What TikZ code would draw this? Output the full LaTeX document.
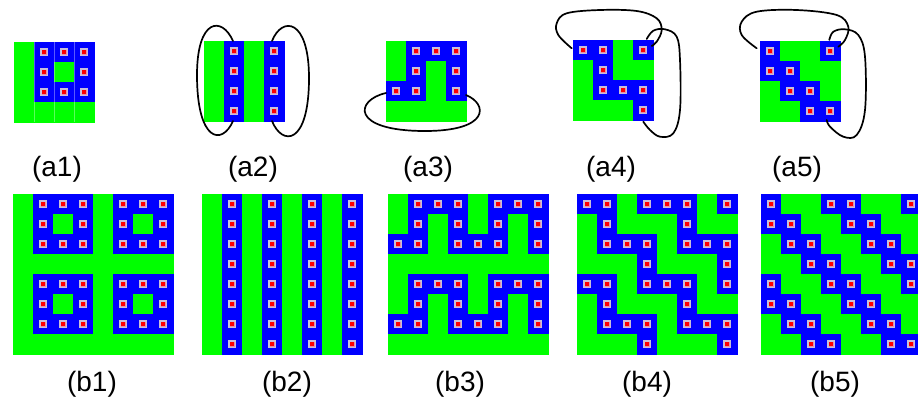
\documentclass[tikz,border=0pt]{standalone}
\usepackage{fontspec}
\setmainfont{Liberation Sans}
\definecolor{gridgreen}{RGB}{0,255,0}
\definecolor{gridblue}{RGB}{0,0,255}
\definecolor{halo}{RGB}{200,190,218}
\definecolor{halomid}{RGB}{232,140,170}
\definecolor{dotred}{RGB}{255,0,0}

\newcommand{\cellgrid}[3]{%
 \foreach \growlist [count=\gr from 0] in {#3} {%
  \foreach \gv [count=\gk from 0] in \growlist {%
   \pgfmathsetmacro{\gcx}{#1+20*\gk}%
   \pgfmathsetmacro{\gcy}{#2+20*\gr}%
   \ifnum\gv=1
     \fill[gridblue, draw=gridblue, line width=0.3] (\gcx,\gcy) rectangle ++(20,20);
     \fill[halo] (\gcx+6.25,\gcy+6.25) rectangle ++(7.5,7.5);
     \fill[halomid] (\gcx+7.5,\gcy+7.5) rectangle ++(5,5);
     \fill[dotred] (\gcx+8.4,\gcy+8.4) rectangle ++(3.2,3.2);
   \else
     \fill[gridgreen, draw=gridgreen, line width=0.3] (\gcx,\gcy) rectangle ++(20,20);
   \fi
  }%
 }%
}
\newcommand{\tiledgrid}[3]{%
 \foreach \gti in {0,1} {%
  \foreach \gtj in {0,1} {%
   \pgfmathsetmacro{\gtx}{#1+80*\gti}%
   \pgfmathsetmacro{\gty}{#2+80*\gtj}%
   \cellgrid{\gtx}{\gty}{#3}%
  }%
 }%
}

\begin{document}
\begin{tikzpicture}[x=1pt, y=-1pt,
  lbl/.style={anchor=base, inner sep=0pt, font=\fontsize{28}{30}\selectfont},
  loopline/.style={draw=black, line width=1.7pt, line cap=round}]
\useasboundingbox (0,0) rectangle (918,400);
\fill[white] (0,0) rectangle (918,400);

% small unit cells
\cellgrid{14}{42}{{0,1,1,1},{0,1,0,1},{0,1,1,1},{0,0,0,0}}
\foreach \lx in {34,54,74} \draw[white, opacity=0.35, line width=0.6] (\lx,42) -- (\lx,122);
\cellgrid{204}{41}{{0,1,0,1},{0,1,0,1},{0,1,0,1},{0,1,0,1}}
\cellgrid{386}{41}{{0,1,1,1},{0,1,0,1},{1,1,0,1},{0,0,0,0}}
\cellgrid{573}{40}{{1,1,0,1},{0,1,0,0},{0,1,1,1},{0,0,0,1}}
\cellgrid{760}{41}{{1,0,0,1},{1,1,0,0},{0,1,1,0},{0,0,1,1}}

% periodic boundary loops
\draw[loopline] (233,41) .. controls (222,16) and (197,18) .. (197,75) .. controls (197,142) and (222,146) .. (233,121);
\draw[loopline] (272,41) .. controls (282,16) and (309,18) .. (309,78) .. controls (309,146) and (282,146) .. (272,121);
\draw[loopline] (386,93) .. controls (355,100) and (350,131) .. (425,131) .. controls (490,131) and (488,104) .. (466,95);
\draw[loopline] plot[smooth, tension=0.6] coordinates {(571.7,48.3) (558.3,35) (556.7,23.3) (566.7,13.3) (600,10) (636.7,11) (656.7,18.3) (661.7,30) (656.7,41.7) (651.7,46)};
\draw[loopline] plot[smooth, tension=0.6] coordinates {(646.7,39) (653.3,30.7) (665,29.3) (676.7,36.7) (680,60) (680,110) (673.3,133.3) (660,136.7) (650,130) (643.3,121.7)};
\draw[loopline] plot[smooth, tension=0.6] coordinates {(756.7,48.3) (741.7,35) (741.7,21.7) (756.7,11.7) (796.7,10) (836.7,15) (848.3,26.7) (845,40) (838.3,46.7)};
\draw[loopline] plot[smooth, tension=0.6] coordinates {(829.3,40) (833.3,31.7) (845,29.3) (858.3,35) (865,56.7) (865,110) (856.7,135) (843.3,136.7) (830,126.7) (826.7,120)};

% labels a
\node[lbl] (la1) at (57,176) {(a1)};
\node[lbl] (la2) at (253,176) {(a2)};
\node[lbl] (la3) at (428,176) {(a3)};
\node[lbl] (la4) at (611,176) {(a4)};
\node[lbl] (la5) at (797,176) {(a5)};

% tiled supercells
\tiledgrid{13}{194}{{0,1,1,1},{0,1,0,1},{0,1,1,1},{0,0,0,0}}
\tiledgrid{202}{194}{{0,1,0,1},{0,1,0,1},{0,1,0,1},{0,1,0,1}}
\tiledgrid{388}{194}{{0,1,1,1},{0,1,0,1},{1,1,0,1},{0,0,0,0}}
\tiledgrid{577}{194}{{1,1,0,1},{0,1,0,0},{0,1,1,1},{0,0,0,1}}
\tiledgrid{761}{194}{{1,0,0,1},{1,1,0,0},{0,1,1,0},{0,0,1,1}}

% labels b
\node[lbl] (lb1) at (92,391) {(b1)};
\node[lbl] (lb2) at (287,391) {(b2)};
\node[lbl] (lb3) at (460,391) {(b3)};
\node[lbl] (lb4) at (647,391) {(b4)};
\node[lbl] (lb5) at (835,391) {(b5)};
\end{tikzpicture}
\end{document}
